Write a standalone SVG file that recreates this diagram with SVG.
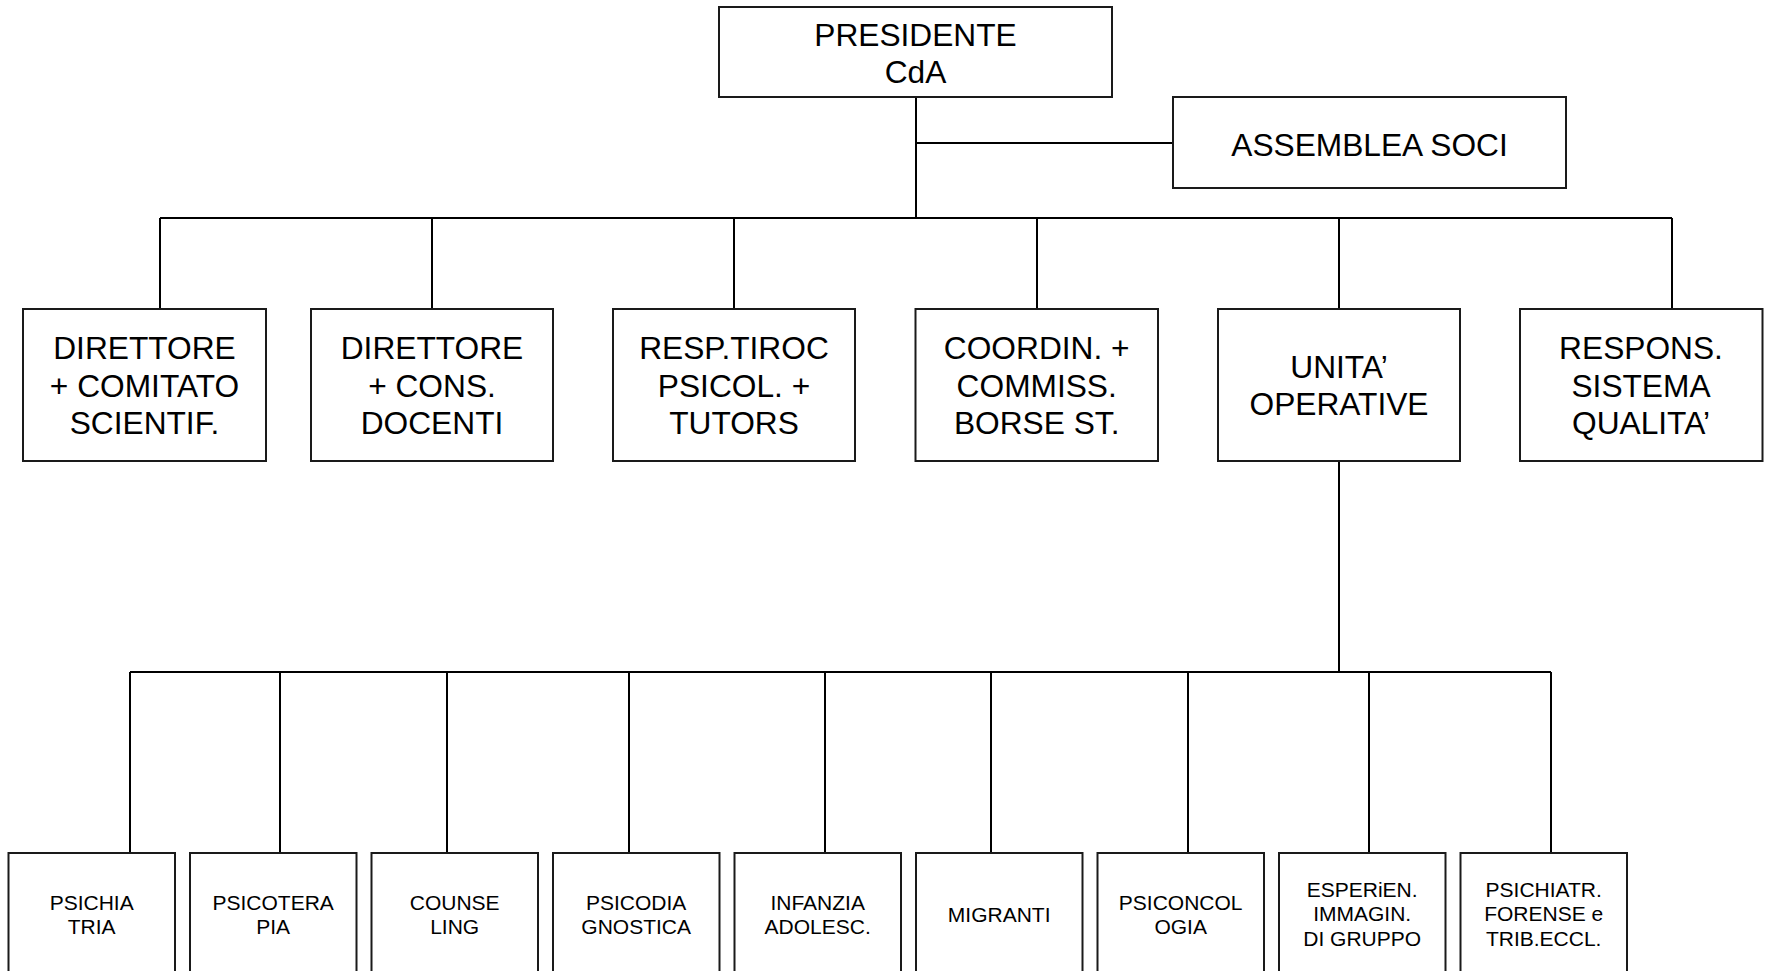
<svg xmlns="http://www.w3.org/2000/svg" width="1770" height="971" viewBox="0 0 1770 971">
<style>
.box{fill:#fff;stroke:#1a1a1a;stroke-width:2}
.ln{fill:none;stroke:#000;stroke-width:2}
.t{font-family:"Liberation Sans",Arial,sans-serif;font-size:31.7px;fill:#000;text-anchor:middle}
.s{font-family:"Liberation Sans",Arial,sans-serif;font-size:21px;fill:#000;text-anchor:middle}
</style>
<rect width="1770" height="971" fill="#fff"/>
<g id="connectors">
<path class="ln" d="M916 97V218M916 143H1173"/>
<path class="ln" d="M160 218H1672M160 218V309M432 218V309M734 218V309M1037 218V309M1339 218V309M1672 218V309"/>
<path class="ln" d="M1339 461V672"/>
<path class="ln" stroke-width="2.5" d="M130 672H1551"/>
<path class="ln" d="M130 672V853M280 672V853M447 672V853M629 672V853M825 672V853M991 672V853M1188 672V853M1369 672V853M1551 672V853"/>
</g>
<g id="presidente"><rect class="box" x="719" y="7" width="393" height="90"/><text class="t" x="915.5" y="46">PRESIDENTE</text><text class="t" x="915.5" y="83">CdA</text></g>
<g id="assemblea"><rect class="box" x="1173" y="97" width="393" height="91"/><text class="t" x="1369.5" y="156">ASSEMBLEA SOCI</text></g>
<g id="direttore-comitato"><rect class="box" x="23" y="309" width="243" height="152"/><text class="t" x="144.5" y="359">DIRETTORE</text><text class="t" x="144.5" y="396.5">+ COMITATO</text><text class="t" x="144.5" y="434">SCIENTIF.</text></g>
<g id="direttore-cons"><rect class="box" x="311" y="309" width="242" height="152"/><text class="t" x="432" y="359">DIRETTORE</text><text class="t" x="432" y="396.5">+ CONS.</text><text class="t" x="432" y="434">DOCENTI</text></g>
<g id="resp-tiroc"><rect class="box" x="613" y="309" width="242" height="152"/><text class="t" x="734" y="359">RESP.TIROC</text><text class="t" x="734" y="396.5">PSICOL. +</text><text class="t" x="734" y="434">TUTORS</text></g>
<g id="coordin"><rect class="box" x="915.5" y="309" width="242.5" height="152"/><text class="t" x="1036.7" y="359">COORDIN. +</text><text class="t" x="1036.7" y="396.5">COMMISS.</text><text class="t" x="1036.7" y="434">BORSE ST.</text></g>
<g id="unita-operative"><rect class="box" x="1218" y="309" width="242" height="152"/><text class="t" x="1339" y="378">UNITA’</text><text class="t" x="1339" y="415">OPERATIVE</text></g>
<g id="respons-qualita"><rect class="box" x="1520" y="309" width="242.5" height="152"/><text class="t" x="1641" y="359">RESPONS.</text><text class="t" x="1641" y="396.5">SISTEMA</text><text class="t" x="1641" y="434">QUALITA’</text></g>
<g id="psichiatria"><rect class="box" x="8.5" y="853" width="166.5" height="126"/><text class="s" x="91.7" y="910">PSICHIA</text><text class="s" x="91.7" y="934">TRIA</text></g>
<g id="psicoterapia"><rect class="box" x="190" y="853" width="166.5" height="126"/><text class="s" x="273.2" y="910">PSICOTERA</text><text class="s" x="273.2" y="934">PIA</text></g>
<g id="counseling"><rect class="box" x="371.5" y="853" width="166.5" height="126"/><text class="s" x="454.7" y="910">COUNSE</text><text class="s" x="454.7" y="934">LING</text></g>
<g id="psicodiagnostica"><rect class="box" x="553" y="853" width="166.5" height="126"/><text class="s" x="636.2" y="910">PSICODIA</text><text class="s" x="636.2" y="934">GNOSTICA</text></g>
<g id="infanzia"><rect class="box" x="734.5" y="853" width="166.5" height="126"/><text class="s" x="817.7" y="910">INFANZIA</text><text class="s" x="817.7" y="934">ADOLESC.</text></g>
<g id="migranti"><rect class="box" x="916" y="853" width="166.5" height="126"/><text class="s" x="999.2" y="922">MIGRANTI</text></g>
<g id="psiconcologia"><rect class="box" x="1097.5" y="853" width="166.5" height="126"/><text class="s" x="1180.7" y="910">PSICONCOL</text><text class="s" x="1180.7" y="934">OGIA</text></g>
<g id="esperienze"><rect class="box" x="1279" y="853" width="166.5" height="126"/><text class="s" x="1362.2" y="897">ESPERiEN.</text><text class="s" x="1362.2" y="921">IMMAGIN.</text><text class="s" x="1362.2" y="946">DI GRUPPO</text></g>
<g id="psichiatria-forense"><rect class="box" x="1460.5" y="853" width="166.5" height="126"/><text class="s" x="1543.7" y="897">PSICHIATR.</text><text class="s" x="1543.7" y="921">FORENSE e</text><text class="s" x="1543.7" y="946">TRIB.ECCL.</text></g>
</svg>
